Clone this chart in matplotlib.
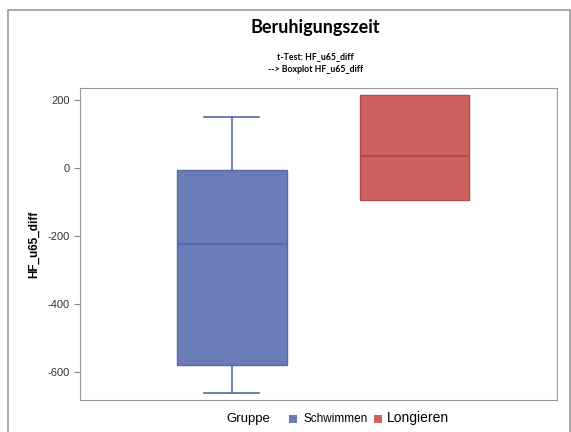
import matplotlib.pyplot as plt
from matplotlib.patches import Rectangle

# box statistics
groups = ['Schwimmen', 'Longieren']
whisker_low = [-661, -95]
q1 = [-580, -95]
medians = [-224, 35]
means = [-257, 50]
q3 = [-7, 214]
whisker_high = [150, 214]
face_colors = ['#6a7bb8', '#cd6060']
edge_colors = ['#5468aa', '#b44848']
yticks = [200, 0, -200, -400, -600]

fig = plt.figure(figsize=(5.71, 4.32), dpi=100)
W, H = 571, 432
ax = fig.add_axes([80 / W, 1 - 400 / H, 477 / W, 312 / H])

stats = []
for i in range(len(groups)):
    stats.append({'whislo': whisker_low[i], 'q1': q1[i], 'med': medians[i],
                  'mean': means[i], 'q3': q3[i], 'whishi': whisker_high[i],
                  'label': groups[i]})

for i, s in enumerate(stats):
    ax.bxp([s], positions=[i + 1], widths=0.6, patch_artist=True, showmeans=True,
           showfliers=False,
           boxprops=dict(facecolor=face_colors[i], edgecolor=edge_colors[i], linewidth=1.0),
           medianprops=dict(color=edge_colors[i], linewidth=1.4),
           whiskerprops=dict(color=edge_colors[i], linewidth=1.2),
           capprops=dict(color=edge_colors[i], linewidth=1.2),
           capwidths=0.3 if i == 0 else 0.0,
           meanprops=dict(marker='o', markerfacecolor='none', markeredgecolor=edge_colors[i],
                          markersize=6, markeredgewidth=0.5, alpha=0.35))

ax.set_xlim(0.17, 2.78)
ax.set_ylim(-683, 236)
ax.set_xticks([])
ax.set_yticks(yticks)
ax.set_yticklabels([str(t) for t in yticks], fontsize=8, family='Liberation Sans', color='#333333')
ax.tick_params(axis='y', length=4, color='#888888')
for sp in ax.spines.values():
    sp.set_color('#999999')
ax.set_ylabel('HF_u65_diff', fontsize=8.5, fontweight='bold', family='Liberation Sans', labelpad=5)

# outer frame
fig.patches.append(Rectangle((8 / W, -0.01), (562 / W), 1 - 10 / H + 0.01,
                             transform=fig.transFigure, fill=False,
                             edgecolor='#999999', linewidth=1.2))

fig.text(0.5 + 30 / W, 1 - 27 / H, 'Beruhigungszeit', ha='center', va='center',
         fontsize=13, fontweight='bold', family='Lato')
fig.text(0.5 + 30 / W, 1 - 57 / H, 't-Test: HF_u65_diff', ha='center', va='center',
         fontsize=6.3, fontweight='bold', family='Lato')
fig.text(0.5 + 30 / W, 1 - 69 / H, '--> Boxplot HF_u65_diff', ha='center', va='center',
         fontsize=6.3, fontweight='bold', family='Lato')

# legend row
ly = 1 - 419 / H
fig.text(226 / W, ly, 'Gruppe', ha='left', va='center', fontsize=9.5, family='Liberation Sans')
fig.patches.append(Rectangle((289 / W, ly - 4 / H), 8 / W, 8 / H, transform=fig.transFigure,
                             facecolor=face_colors[0], edgecolor='none'))
fig.text(303 / W, ly, groups[0], ha='left', va='center', fontsize=8.5, family='Liberation Sans')
fig.patches.append(Rectangle((374 / W, ly - 4 / H), 8 / W, 8 / H, transform=fig.transFigure,
                             facecolor=face_colors[1], edgecolor='none'))
fig.text(387 / W, ly + 1 / H, groups[1], ha='left', va='center', fontsize=10, family='Liberation Sans')

fig.savefig('out.png', dpi=100)
